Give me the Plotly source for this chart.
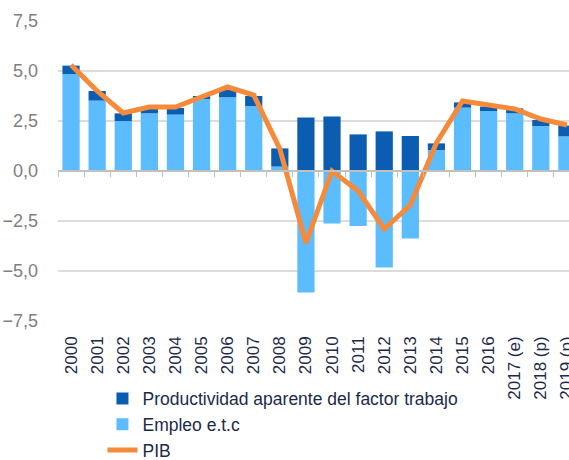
import plotly.graph_objects as go

years = ["2000", "2001", "2002", "2003", "2004", "2005", "2006", "2007", "2008", "2009",
         "2010", "2011", "2012", "2013", "2014", "2015", "2016", "2017 (e)", "2018 (p)", "2019 (p)"]
empleo = [4.85, 3.52, 2.50, 2.88, 2.82, 3.60, 3.68, 3.25, 0.22, -6.07,
          -2.62, -2.75, -4.82, -3.38, 1.05, 3.17, 3.00, 2.88, 2.25, 1.73]
productividad = [0.42, 0.48, 0.38, 0.34, 0.33, 0.15, 0.37, 0.50, 0.91, 2.67,
                 2.73, 1.83, 1.98, 1.75, 0.33, 0.26, 0.22, 0.25, 0.30, 0.54]
pib = [5.3, 4.0, 2.9, 3.2, 3.2, 3.7, 4.2, 3.8, 1.1, -3.6,
       0.0, -1.0, -2.9, -1.7, 1.4, 3.5, 3.3, 3.1, 2.6, 2.3]
y_ticks = [-7.5, -5.0, -2.5, 0.0, 2.5, 5.0, 7.5]

DARK = "#0b5db1"
LIGHT = "#5bbdfd"
ORANGE = "#f58a3a"
NAVY = "#1c2a48"
FONT = "Liberation Sans, Arial, sans-serif"

fig = go.Figure()
fig.add_trace(go.Bar(x=years, y=empleo, name="Empleo e.t.c", marker_color=LIGHT,
                     marker_line_width=0, legendrank=2))
fig.add_trace(go.Bar(x=years, y=productividad, name="Productividad aparente del factor trabajo",
                     marker_color=DARK, marker_line_width=0, legendrank=1))
fig.add_trace(go.Scatter(x=years, y=pib, name="PIB", mode="lines", xaxis="x2",
                         line=dict(color=ORANGE, width=5), legendrank=3))

xr = [-0.5, 19.08]
fig.update_layout(
    width=569, height=460,
    margin=dict(l=58, r=0, t=21, b=139, autoexpand=False),
    barmode="relative", bargap=0.34,
    plot_bgcolor="white", paper_bgcolor="white",
    separators=",.",
    font=dict(family=FONT, color=NAVY),
    showlegend=True,
    legend=dict(x=0.087, y=-0.199, xanchor="left", yanchor="top", traceorder="normal",
                font=dict(size=17.5, color=NAVY), bgcolor="rgba(0,0,0,0)", tracegroupgap=0),
    xaxis=dict(type="category", range=xr, showline=False, ticks="", showgrid=False,
               automargin=False,
               tickangle=-90, tickfont=dict(size=17, color=NAVY), ticklabelstandoff=11),
    xaxis2=dict(type="category", overlaying="x", matches="x", range=xr, anchor="free",
                position=0.5, showline=True, linecolor="#c0c0c0", linewidth=1.5,
                ticks="outside", tickson="boundaries", ticklen=5, tickcolor="#c0c0c0",
                showticklabels=False, showgrid=False, automargin=False),
    yaxis=dict(range=[-7.5, 7.5], tickvals=y_ticks, tickformat=".1f", showgrid=True,
               gridcolor="#dcdcdc", gridwidth=1.5, zeroline=False, showline=False,
               automargin=False,
               tickfont=dict(size=18, color="#7f7f7f"), ticklabelstandoff=19),
)

fig.write_html("out.html", config={"displayModeBar": False},
               post_script="document.body.style.margin='0';")
